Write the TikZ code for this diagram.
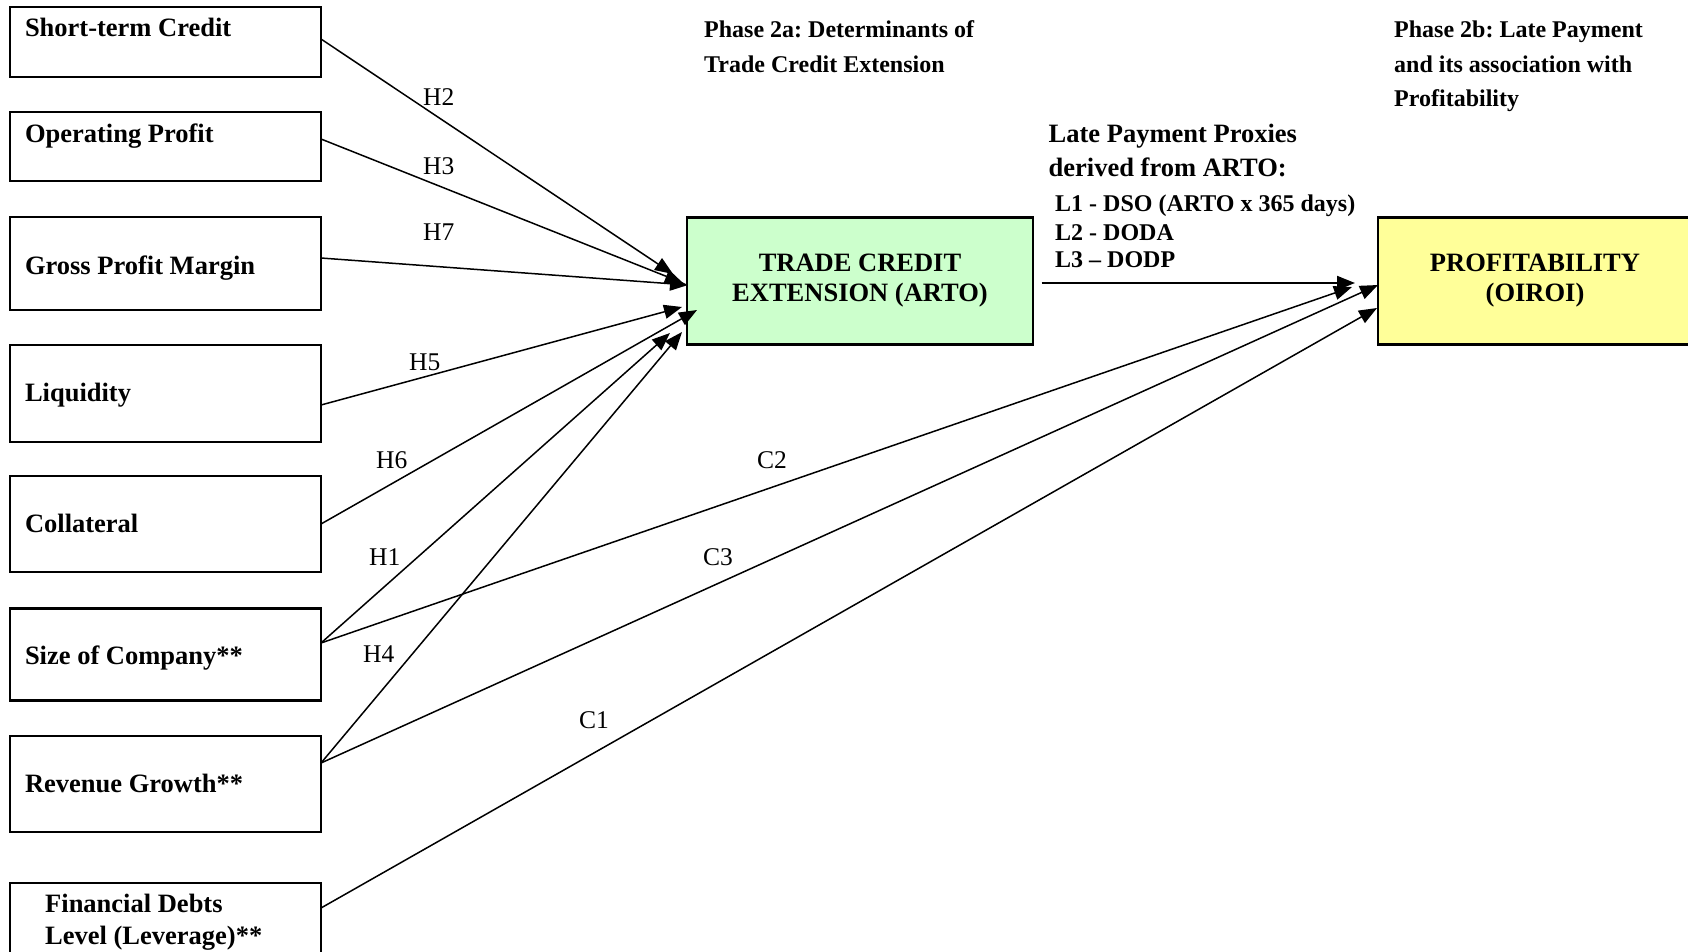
\documentclass[tikz,border=0pt]{standalone}
\usepackage{fontspec}
\setmainfont{Liberation Serif}
\usetikzlibrary{arrows.meta}
\definecolor{tcgreen}{HTML}{CCFFCC}
\definecolor{profyellow}{HTML}{FFFF99}
\frenchspacing
\begin{document}
\begin{tikzpicture}[x=1pt,y=-1pt,
  box/.style={draw, line width=2.2pt, minimum width=311pt, inner sep=0pt, outer sep=0pt},
  bigbox/.style={draw, line width=2.2pt, minimum height=127pt, inner sep=0pt, outer sep=0pt, align=center,
    font=\fontsize{26.5}{30}\selectfont\bfseries},
  lbl/.style={font=\fontsize{26.5}{30}\selectfont\bfseries, anchor=base west, inner sep=0pt},
  hdr/.style={font=\fontsize{24}{28}\selectfont\bfseries, anchor=base west, inner sep=0pt},
  hyp/.style={font=\fontsize{25.5}{28}\selectfont, anchor=base west, inner sep=0pt},
  arr/.style={line width=1.5pt, -{Triangle[length=18pt,width=14pt]}}
]
\useasboundingbox (0,0) rectangle (1688,951);
\clip (0,0) rectangle (1688,951);

% left boxes
\node[box, minimum height=70pt] (st) at (165.5,42) {};
\node[box, minimum height=69pt] (op) at (165.5,146.5) {};
\node[box, minimum height=93pt] (gp) at (165.5,263.5) {};
\node[box, minimum height=97pt] (liq) at (165.5,393.5) {};
\node[box, minimum height=96pt] (col) at (165.5,524) {};
\node[box, minimum height=92pt] (size) at (165.5,654.5) {};
\node[box, minimum height=96pt] (rev) at (165.5,784) {};
\node[box, minimum height=90pt] (fin) at (165.5,928) {};

\node[lbl] (tst) at (24.8,36.6) {Short-term Credit};
\node[lbl] (top) at (24.8,142) {Operating Profit};
\node[lbl] (tgp) at (24.8,274.5) {Gross Profit Margin};
\node[lbl] (tliq) at (24.8,401.5) {Liquidity};
\node[lbl] (tcol) at (24.8,532) {Collateral};
\node[lbl] (tsize) at (24.8,664) {Size of Company**};
\node[lbl] (trev) at (24.8,792) {Revenue Growth**};
\node[lbl] (tfin1) at (45,912) {Financial Debts};
\node[lbl] (tfin2) at (45,944) {Level (Leverage)**};

% main boxes
\node[bigbox, fill=tcgreen, minimum width=346pt] (tce) at (860,281) {TRADE CREDIT\\EXTENSION (ARTO)};
\node[bigbox, fill=profyellow, minimum width=314pt] (prof) at (1535,281) {PROFITABILITY\\(OIROI)};

% headers
\node[hdr] (h2a1) at (704,37.7) {Phase 2a: Determinants of};
\node[hdr] (h2a2) at (704,72) {Trade Credit Extension};
\node[hdr] (h2b1) at (1394,37.7) {Phase 2b: Late Payment};
\node[hdr] (h2b2) at (1394,72) {and its association with};
\node[hdr] (h2b3) at (1394,106.6) {Profitability};

\node[lbl] (lp1) at (1048.5,142) {Late Payment Proxies};
\node[lbl] (lp2) at (1048.5,176.5) {derived from ARTO:};
\node[hdr] (l1) at (1055,211) {L1 - DSO (ARTO x 365 days)};
\node[hdr] (l2) at (1055,240) {L2 - DODA};
\node[hdr] (l3) at (1055,267) {L3 -- DODP};

% arrow end points
\coordinate (tH2) at (673,274);
\coordinate (tH3) at (683,283);
\coordinate (tH7) at (688,285);
\coordinate (tH5) at (682,307);
\coordinate (tH6) at (697,310);
\coordinate (tH1) at (670,333);
\coordinate (tH4) at (682,332);
\coordinate (tL) at (1355,283);
\coordinate (tC2) at (1352,287);
\coordinate (tC3) at (1378,285);
\coordinate (tC1) at (1377,308);

% connectors
\draw[arr] ([yshift=3pt]st.east) -- (tH2);
\draw[arr] ([yshift=7.5pt]op.east) -- (tH3);
\draw[arr] ([yshift=5.5pt]gp.east) -- (tH7);
\draw[arr] ([yshift=-11.5pt]liq.east) -- (tH5);
\draw[arr] (col.east) -- (tH6);
\draw[arr] ([yshift=11.5pt]size.east) -- (tH1);
\draw[arr] ([yshift=21pt]rev.east) -- (tH4);
\draw[arr] ([yshift=11.5pt]size.east) -- (tC2);
\draw[arr] ([yshift=21pt]rev.east) -- (tC3);
\draw[arr] ([yshift=20pt]fin.east) -- (tC1);
\draw[arr, line width=2pt] ([xshift=8.5pt,yshift=-2pt]tce.east) -- (tL);

% hypothesis labels
\node[hyp] (lH2) at (423,105) {H2};
\node[hyp] (lH3) at (423,174) {H3};
\node[hyp] (lH7) at (423,240.5) {H7};
\node[hyp] (lH5) at (409,370) {H5};
\node[hyp] (lH6) at (376,468) {H6};
\node[hyp] (lH1) at (369,565) {H1};
\node[hyp] (lH4) at (363,662.5) {H4};
\node[hyp] (lC2) at (757,468) {C2};
\node[hyp] (lC3) at (703,565) {C3};
\node[hyp] (lC1) at (579,728) {C1};
\end{tikzpicture}
\end{document}
